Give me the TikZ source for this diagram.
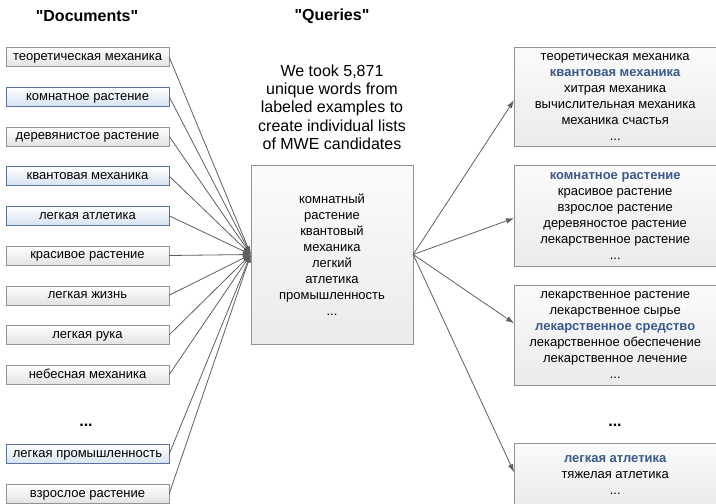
\documentclass[tikz,border=0pt]{standalone}
\usepackage{fontspec}
\setmainfont{Liberation Sans}
\newfontfamily\headfont{Liberation Sans}
\usepackage{tikz}
\usetikzlibrary{arrows.meta}

\definecolor{hitblue}{RGB}{59,89,140}
\definecolor{docblue}{RGB}{214,226,241}
\definecolor{linegray}{RGB}{95,95,95}
\newcommand{\best}[1]{{\color{hitblue}\bfseries #1}}

\tikzset{
	doc/.style={draw=gray!85,top color=white,bottom color=gray!22,
		minimum width=163pt,minimum height=19pt,inner sep=0pt,
		text height=9.5pt,text depth=2.7pt,
		font=\fontsize{13}{16}\selectfont},
	docb/.style={doc,draw=hitblue!85,bottom color=docblue},
	cand/.style={draw=gray!85,top color=gray!3,bottom color=gray!16,
		anchor=north west,minimum width=202pt,inner sep=0pt,align=center,
		font=\fontsize{13}{16}\selectfont},
	head/.style={font=\headfont\fontsize{16}{19}\selectfont\bfseries},
	link/.style={draw=linegray,line width=0.8pt,->}
}

\begin{document}
\begin{tikzpicture}[x=1pt,y=-1pt,>={Latex[length=8pt,width=5.5pt]}]
			\useasboundingbox (0,0) rectangle (716,504);
			\node[head] (docs) at (87,16) {"Documents"};
			\node[head] (queries) at (332,16) {"Queries"};
			\node[align=center,font=\fontsize{16}{18.3}\selectfont] (note) at (332,107)
				{We took 5,871\\unique words from\\labeled examples to\\create individual lists\\of MWE candidates};
			\node[draw=gray!85,top color=gray!3,bottom color=gray!16,minimum width=162pt,
				minimum height=179pt,align=center,font=\fontsize{13}{16}\selectfont] (Q) at (332,254.5)
				{комнатный\\растение\\квантовый\\механика\\легкий\\атлетика\\промышленность\\...};
			\foreach \i/\sty/\txt in {1/doc/теоретическая механика,2/docb/комнатное растение,
				3/doc/деревянистое растение,4/docb/квантовая механика,5/docb/легкая атлетика,
				6/doc/красивое растение,7/doc/легкая жизнь,8/doc/легкая рука,
				9/doc/небесная механика,11/docb/легкая промышленность,12/doc/взрослое растение} {
				\pgfmathsetmacro{\yy}{57 + (\i - 1) * 39.7}
				\node[\sty] (D\i) at (87.5,\yy) {\txt};
				\draw[link] (D\i.east) -- (Q.west);
			}
			\node[head] (ldots) at (86,425) {...};
			\node[cand,minimum height=99pt] (R1) at (514,47)
				{теоретическая механика\\\best{квантовая механика}\\хитрая механика\\вычислительная механика\\механика счастья\\...};
			\node[cand,minimum height=101pt] (R2) at (514,165)
				{\best{комнатное растение}\\красивое растение\\взрослое растение\\деревяностое растение\\лекарственное растение\\...};
			\node[cand,minimum height=100pt] (R3) at (514,285)
				{лекарственное растение\\лекарственное сырье\\\best{лекарственное средство}\\лекарственное обеспечение\\лекарственное лечение\\...};
			\node[cand,minimum height=63pt] (R4) at (514,443)
				{\best{легкая атлетика}\\тяжелая атлетика\\...};
			\node[head] (rdots) at (615,425) {...};
			\draw[link] (Q.east) -- ([yshift=-3.5pt]R1.west);
			\draw[link] (Q.east) -- ([yshift=-2.5pt]R2.west);
			\draw[link] (Q.east) -- ([yshift=12pt]R3.west);
			\draw[link] (Q.east) -- ([yshift=2.5pt]R4.west);
		\end{tikzpicture}
\end{document}
